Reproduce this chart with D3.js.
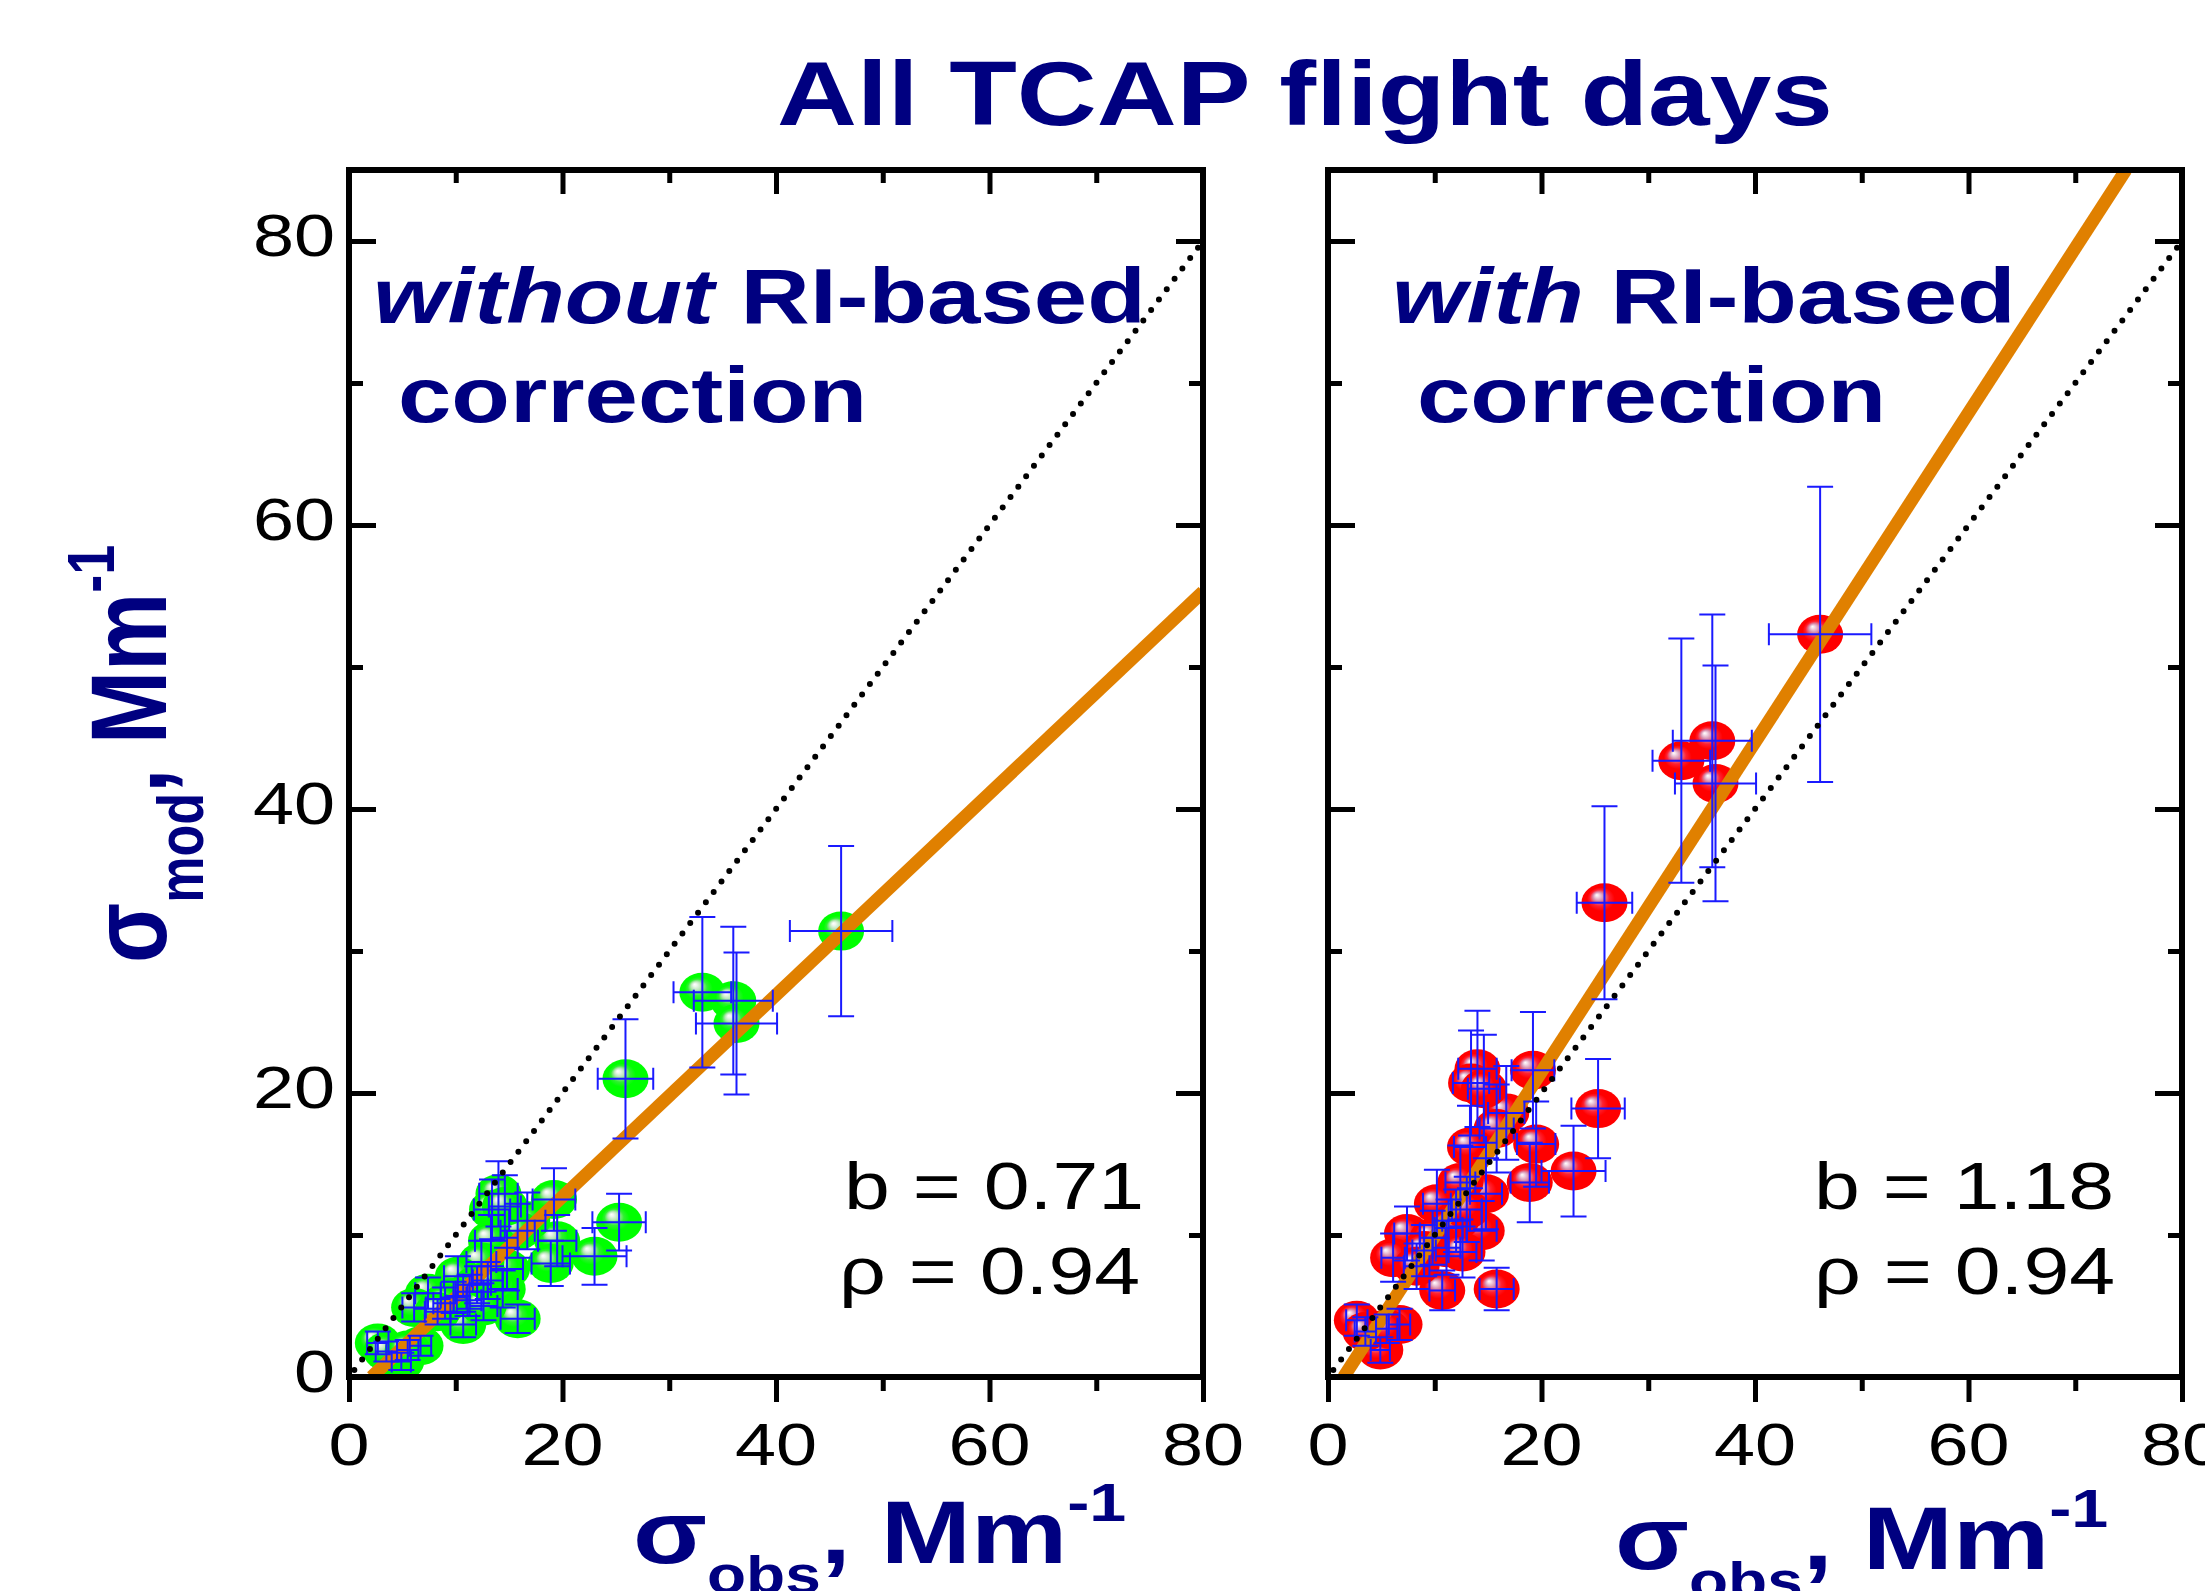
<!DOCTYPE html>
<html>
<head>
<meta charset="utf-8">
<script src="https://cdn.jsdelivr.net/npm/d3@7"></script>
<style>
body { margin: 0; background: #fff; }
text { font-family: "Liberation Sans", Arial, sans-serif; }
</style>
</head>
<body>
<svg id="chart" width="2205" height="1591"></svg>
<script>
// observed scattering (x) and its error
var obsX    = [46.1, 33.1, 36.0, 36.3, 25.9, 25.3, 23.0, 19.2, 19.5, 18.9, 15.8, 14.0, 13.4, 16.7, 15.8, 13.3, 14.8, 14.4, 12.4,
               10.2, 11.1, 10.7, 7.4, 6.1, 2.7, 6.7, 4.9, 12.0, 11.3, 9.8, 12.6, 9.0, 3.5, 5.5, 14.6, 13.0, 8.3];
var obsXErr = [4.8, 2.7, 3.7, 3.8, 2.6, 2.5, 3.0, 2.0, 1.8, 1.8, 1.6, 1.8, 1.7, 1.7, 1.6, 1.5, 1.5, 1.4, 1.4,
               1.3, 1.3, 1.2, 1.2, 1.1, 1.0, 1.0, 0.9, 1.3, 1.3, 1.2, 1.3, 1.1, 1.0, 1.0, 1.5, 1.4, 1.2];
// modelled scattering without RI-based correction
var modNoCorr    = [31.4, 27.1, 26.5, 24.9, 21.0, 10.9, 8.5, 12.5, 9.6, 8.0, 4.1, 12.9, 11.8, 11.0, 10.3, 9.6, 7.6, 6.2, 8.1,
                    7.1, 5.4, 3.7, 5.9, 4.9, 2.4, 2.2, 1.1, 6.5, 6.0, 5.6, 5.0, 5.2, 1.8, 1.9, 12.0, 6.8, 4.6];
var modNoCorrErr = [6.0, 5.3, 5.2, 5.0, 4.2, 2.0, 2.0, 2.2, 1.8, 1.6, 1.0, 2.3, 2.1, 2.0, 1.9, 1.8, 1.5, 1.3, 1.5,
                    1.4, 1.1, 0.9, 1.1, 1.0, 0.8, 0.7, 0.6, 1.3, 1.2, 1.1, 1.0, 1.1, 0.7, 0.7, 2.2, 1.3, 0.9];
// modelled scattering with RI-based correction
var modCorr    = [52.3, 43.4, 44.8, 41.8, 33.4, 18.9, 14.5, 21.6, 16.4, 13.7, 6.2, 21.7, 20.7, 18.6, 17.5, 16.2, 12.9, 10.3, 13.7,
                  12.2, 9.1, 6.1, 10.1, 8.4, 4.0, 3.7, 1.9, 11.0, 10.5, 9.8, 8.8, 8.9, 3.2, 3.4, 20.3, 11.8, 7.8];
var modCorrErr = [10.4, 8.6, 8.9, 8.3, 6.8, 3.5, 3.2, 4.1, 3.0, 2.8, 1.5, 4.1, 3.7, 3.3, 3.1, 2.9, 2.5, 2.1, 2.6,
                  2.4, 1.9, 1.4, 1.9, 1.7, 1.1, 1.1, 0.9, 2.2, 2.0, 1.9, 1.8, 1.8, 1.0, 1.0, 3.8, 2.3, 1.6];

var fitSlope     = [0.71, 1.16];
var fitIntercept = [-1.5, -1.7];
var slopeLabels  = ['b = 0.71', 'b = 1.18'];
var corrLabels   = ['\u03c1 = 0.94', '\u03c1 = 0.94'];
var panelWords   = [['without', ' RI-based'], ['with', ' RI-based']];
var xTicks = [0, 20, 40, 60, 80];
var yTicks = [0, 20, 40, 60, 80];

var svg = d3.select('#chart');
var navy = '#000080';
var sx = 1.23;   // the original figure is stretched sideways

// gradients for the ball markers
var defs = svg.append('defs');
function ball(id, stops) {
    var g = defs.append('radialGradient').attr('id', id)
        .attr('cx', '0.5').attr('cy', '0.5').attr('r', '0.55')
        .attr('fx', '0.33').attr('fy', '0.3');
    stops.forEach(function(s) {
        g.append('stop').attr('offset', s[0]).attr('stop-color', s[1]);
    });
}
ball('ballGreen', [[0, '#ffffff'], [0.07, '#eef8ee'], [0.2, '#b8e6b8'], [0.38, '#30f030'], [0.55, '#00ff00'], [1, '#00ff00']]);
ball('ballRed', [[0, '#ffffff'], [0.07, '#f4dce8'], [0.2, '#d890b0'], [0.38, '#ff2030'], [0.55, '#ff0000'], [1, '#ff0000']]);

var panels = [
    { x0: 349, x1: 1203, y: modNoCorr, yErr: modNoCorrErr, fill: 'url(#ballGreen)' },
    { x0: 1328, x1: 2182, y: modCorr, yErr: modCorrErr, fill: 'url(#ballRed)' }
];
var yTop = 170, yBottom = 1377;

function sText(g, x, y, size, weight, fill, anchor) {
    return g.append('text')
        .attr('transform', 'translate(' + x + ',' + y + ') scale(' + sx + ',1)')
        .attr('font-size', size).attr('font-weight', weight)
        .attr('fill', fill).attr('text-anchor', anchor || 'start');
}

panels.forEach(function(p, k) {
    var x = d3.scaleLinear().domain([0, 80]).range([p.x0, p.x1]);
    var y = d3.scaleLinear().domain([0, 85]).range([yBottom, yTop]);
    var g = svg.append('g');

    defs.append('clipPath').attr('id', 'clip' + k)
        .append('rect').attr('x', p.x0).attr('y', yTop)
        .attr('width', p.x1 - p.x0).attr('height', yBottom - yTop);
    var plot = g.append('g').attr('clip-path', 'url(#clip' + k + ')');

    // balls
    plot.selectAll('ellipse').data(obsX).enter().append('ellipse')
        .attr('cx', function(d) { return x(d); })
        .attr('cy', function(d, i) { return y(p.y[i]); })
        .attr('rx', 23).attr('ry', 19.5)
        .attr('fill', p.fill);

    // fit line
    var a = fitSlope[k], b = fitIntercept[k];
    var xs = Math.max(0, -b / a), xe = Math.min(80, (85 - b) / a);
    plot.append('line')
        .attr('x1', x(xs)).attr('y1', y(a * xs + b))
        .attr('x2', x(xe)).attr('y2', y(a * xe + b))
        .attr('stroke', '#e08000').attr('stroke-width', 13);

    // error bars
    var eb = plot.append('g').attr('stroke', '#1a1aff').attr('stroke-width', 2).attr('fill', 'none');
    obsX.forEach(function(d, i) {
        var cx = x(d), cy = y(p.y[i]);
        var yt = y(p.y[i] + p.yErr[i]), yb = y(p.y[i] - p.yErr[i]);
        var xl = x(d - obsXErr[i]), xr = x(d + obsXErr[i]);
        eb.append('path').attr('d',
            'M' + cx + ',' + yt + 'V' + yb +
            'M' + (cx - 13) + ',' + yt + 'H' + (cx + 13) +
            'M' + (cx - 13) + ',' + yb + 'H' + (cx + 13) +
            'M' + xl + ',' + cy + 'H' + xr +
            'M' + xl + ',' + (cy - 11) + 'V' + (cy + 11) +
            'M' + xr + ',' + (cy - 11) + 'V' + (cy + 11));
    });

    // 1:1 line
    plot.append('line')
        .attr('x1', x(0.5)).attr('y1', y(0.5)).attr('x2', x(80)).attr('y2', y(80))
        .attr('stroke', '#000').attr('stroke-width', 6)
        .attr('stroke-linecap', 'round').attr('stroke-dasharray', '0 13');

    // axes (ticks only)
    function ax(axis, vals, size, tr) {
        var a = g.append('g').attr('transform', tr)
            .call(axis.tickValues(vals).tickSize(size).tickSizeOuter(0).tickFormat(''));
        a.select('.domain').remove();
        a.selectAll('line').attr('stroke', '#000').attr('stroke-width', 5);
    }
    var major = [0, 20, 40, 60, 80], minor = [10, 30, 50, 70];
    ax(d3.axisBottom(x), major, 25, 'translate(0,' + yBottom + ')');
    ax(d3.axisBottom(x), minor, 14, 'translate(0,' + yBottom + ')');
    ax(d3.axisBottom(x), major, 24, 'translate(0,' + yTop + ')');
    ax(d3.axisBottom(x), minor, 13, 'translate(0,' + yTop + ')');
    ax(d3.axisRight(y), major, 27, 'translate(' + p.x0 + ',0)');
    ax(d3.axisRight(y), minor, 14, 'translate(' + p.x0 + ',0)');
    ax(d3.axisLeft(y), major, 27, 'translate(' + p.x1 + ',0)');
    ax(d3.axisLeft(y), minor, 14, 'translate(' + p.x1 + ',0)');

    g.append('rect').attr('x', p.x0).attr('y', yTop)
        .attr('width', p.x1 - p.x0).attr('height', yBottom - yTop)
        .attr('fill', 'none').attr('stroke', '#000').attr('stroke-width', 6);

    // tick labels
    xTicks.forEach(function(t) {
        sText(g, x(t), 1465, 60, 'normal', '#000', 'middle').text(t);
    });
    if (k === 0) {
        yTicks.forEach(function(t) {
            sText(g, 335, y(t) + 15, 60, 'normal', '#000', 'end').text(t);
        });
    }

    // panel text
    var t1 = sText(g, p.x0 + 24 + k * 40, 323, 78, 'bold', navy);
    t1.append('tspan').attr('font-style', 'italic').text(panelWords[k][0]);
    t1.append('tspan').text(panelWords[k][1]);
    sText(g, p.x0 + 49 + k * 40, 422, 78, 'bold', navy).text('correction');

    sText(g, p.x0 + 495 + k * -9, 1209, 67, 'normal', '#000').text(slopeLabels[k]);
    sText(g, p.x0 + 490 + k * -4, 1294, 67, 'normal', '#000').text(corrLabels[k]);

    // x axis title
    var xl = sText(g, p.x0 + 284 + k * 3, 1563 + k * 6, 88, 'bold', navy);
    xl.append('tspan').text('\u03c3');
    xl.append('tspan').attr('font-size', 52).attr('dy', 30).text('obs');
    xl.append('tspan').attr('dy', -30).text(', Mm');
    xl.append('tspan').attr('font-size', 54).attr('dy', -42).text('-1');
});

// y axis title
var yl = svg.append('text')
    .attr('transform', 'translate(166,963) scale(' + sx + ',1) rotate(-90)')
    .attr('font-size', 88).attr('font-weight', 'bold').attr('fill', navy);
yl.append('tspan').text('\u03c3');
yl.append('tspan').attr('font-size', 52).attr('dy', 30).text('mod');
yl.append('tspan').attr('dy', -30).text(', Mm');
yl.append('tspan').attr('font-size', 54).attr('dy', -42).text('-1');

// title
sText(svg, 777, 125, 90, 'bold', navy).text('All TCAP flight days');
</script>
</body>
</html>
